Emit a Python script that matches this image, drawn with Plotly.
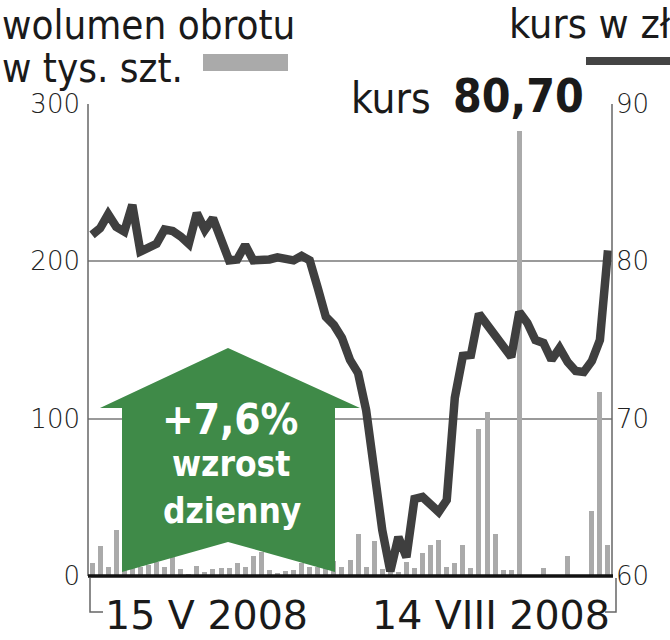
import plotly.graph_objects as go

# ---- data ----
days = list(range(65))  # trading sessions 15 V 2008 .. 14 VIII 2008
volume = [8, 19, 6, 29, 4, 5, 5.5, 7, 9, 5.5, 12, 4.5, 1.5, 6.5, 2.5, 4.5, 5, 5, 8, 5.5,
          13, 15.5, 3.5, 2, 3, 4, 8, 6, 6, 6, 9.5, 6, 10, 26.5, 6, 22, 4.5, 3, 2.5, 9,
          5, 14.5, 19.5, 23, 6, 8.5, 19.5, 5, 93.5, 104.5, 26.5, 3.5, 4, 283, 0, 0, 5, 0, 0, 12.5,
          0, 0, 41.5, 117, 19.5]
price = [81.68, 82.10, 82.99, 82.19, 81.89, 83.59, 80.62, 80.85, 81.11, 82.03,
         81.93, 81.58, 81.11, 83.06, 82.00, 82.74, 81.52, 80.06, 80.12, 81.04,
         80.06, 80.06, 80.12, 80.25, 80.22, 80.06, 80.35, 80.06, 78.31, 76.47,
         75.96, 75.13, 73.73, 72.90, 70.55, 66.23, 62.92, 60.30, 62.48, 61.20,
         64.90, 65.02, 64.58, 64.07, 64.83, 71.32, 73.99, 74.05, 76.66, 75.96,
         75.19, 74.56, 73.92, 76.78, 76.08, 75.00, 74.81, 73.73, 74.49, 73.60,
         73.03, 72.97, 73.67, 75.00, 80.70]
vol_ticks = [0, 100, 200, 300]
price_ticks = [60, 70, 80, 90]
date_labels = ["15 V 2008", "14 VIII 2008"]

W, H = 670, 640
L, R, T, B = 88, 612, 104, 576


def px(x, y):
    return (x - L) / (R - L), (B - y) / (B - T)


def path(points, close=False):
    s = ""
    for i, (x, y) in enumerate(points):
        a, b = px(x, y)
        s += ("M" if i == 0 else "L") + f"{a:.5f},{b:.5f} "
    return s + ("Z" if close else "")


fig = go.Figure()
fig.add_trace(go.Bar(x=days, y=volume, marker=dict(color="#aaaaaa", line=dict(width=0)),
                     width=0.62, yaxis="y", showlegend=False))
fig.add_trace(go.Scatter(x=days, y=price, mode="lines", yaxis="y2",
                         line=dict(color="#3f3f3f", width=8.5), showlegend=False))

shapes = []
# axis lines and brackets
for pts in ([(L, T), (L, B)], [(R, T), (R, B)],
            [(90, B + 2), (90, 612), (103, 612)],
            [(616, B + 2), (616, 612), (605, 612)]):
    shapes.append(dict(type="path", xref="paper", yref="paper", path=path(pts),
                       line=dict(color="#666666", width=1.5), layer="above"))
# white box behind current price
x0, y0 = px(333, 128)
x1, y1 = px(603, 70)
shapes.append(dict(type="rect", xref="paper", yref="paper", x0=x0, y0=y0, x1=x1, y1=y1,
                   fillcolor="white", line=dict(width=0), layer="above"))
# baseline
shapes.append(dict(type="path", xref="paper", yref="paper", path=path([(L, B), (R + 1, B)]),
                   line=dict(color="#111111", width=3.5), layer="above"))
# green arrow
arrow = [(228, 348), (360, 408), (335, 408), (335, 572), (228, 542), (122, 572), (122, 408), (100, 408)]
shapes.append(dict(type="path", xref="paper", yref="paper", path=path(arrow, True),
                   fillcolor="#3f8a48", line=dict(width=0), layer="above"))
# legend keys
a0, b0 = px(203, 71)
a1, b1 = px(288, 54)
shapes.append(dict(type="rect", xref="paper", yref="paper", x0=a0, y0=b0, x1=a1, y1=b1,
                   fillcolor="#aaaaaa", line=dict(width=0)))
shapes.append(dict(type="path", xref="paper", yref="paper", path=path([(586, 61), (672, 61)]),
                   line=dict(color="#444444", width=8)))


def ann(text, x, y, size, xanchor="left", bold=False, color="#1a1a1a", family="DejaVu Sans Condensed"):
    a, b = px(x, y)
    return dict(text=text, x=a, y=b, xref="paper", yref="paper", xanchor=xanchor, yanchor="middle",
                showarrow=False, align="left",
                font=dict(family=family, size=size, color=color, weight=700 if bold else 400))


title_left = ("<span style='font-size:40px'>wolumen obrotu</span><br>"
              "<span style='font-size:40px'>w tys. szt.</span>")

annotations = [
    ann(title_left, 0, 46, 33),
    ann("kurs w zł", 507, 24, 41),
    ann("kurs", 349, 98, 42),
    ann("80,70", 451, 96, 46, bold=True),
    ann("+7,6%", 230, 419, 42, xanchor="center", bold=True, color="white"),
    ann("wzrost", 231, 464, 35, xanchor="center", bold=True, color="white"),
    ann("dzienny", 232, 511, 35, xanchor="center", bold=True, color="white"),
    ann(date_labels[0], 103, 615, 39.5, family="DejaVu Sans"),
    ann(date_labels[1], 370, 615, 39.5, family="DejaVu Sans"),
]

tickfont = dict(family="DejaVu Sans", size=26, color="#222222", weight=300)
fig.update_layout(
    width=W, height=H, margin=dict(l=L, r=W - R, t=T, b=H - B),
    plot_bgcolor="white", paper_bgcolor="white", bargap=0,
    xaxis=dict(range=[-0.5, 64.5], showticklabels=False, showgrid=False, zeroline=False,
               showline=False, fixedrange=True),
    yaxis=dict(range=[0, 300], tickvals=vol_ticks, showgrid=True, gridcolor="#9a9a9a",
               gridwidth=1.5, zeroline=False, showline=False, ticks="",
               ticklabelstandoff=7, tickfont=tickfont),
    yaxis2=dict(range=[60, 90], tickvals=price_ticks, overlaying="y", side="right",
                showgrid=False, zeroline=False, showline=False, ticks="",
                ticklabelstandoff=3, tickfont=tickfont),
    shapes=shapes, annotations=annotations,
)

fig.write_html("out.html", config={"displayModeBar": False},
               post_script="document.body.style.margin='0px';")
